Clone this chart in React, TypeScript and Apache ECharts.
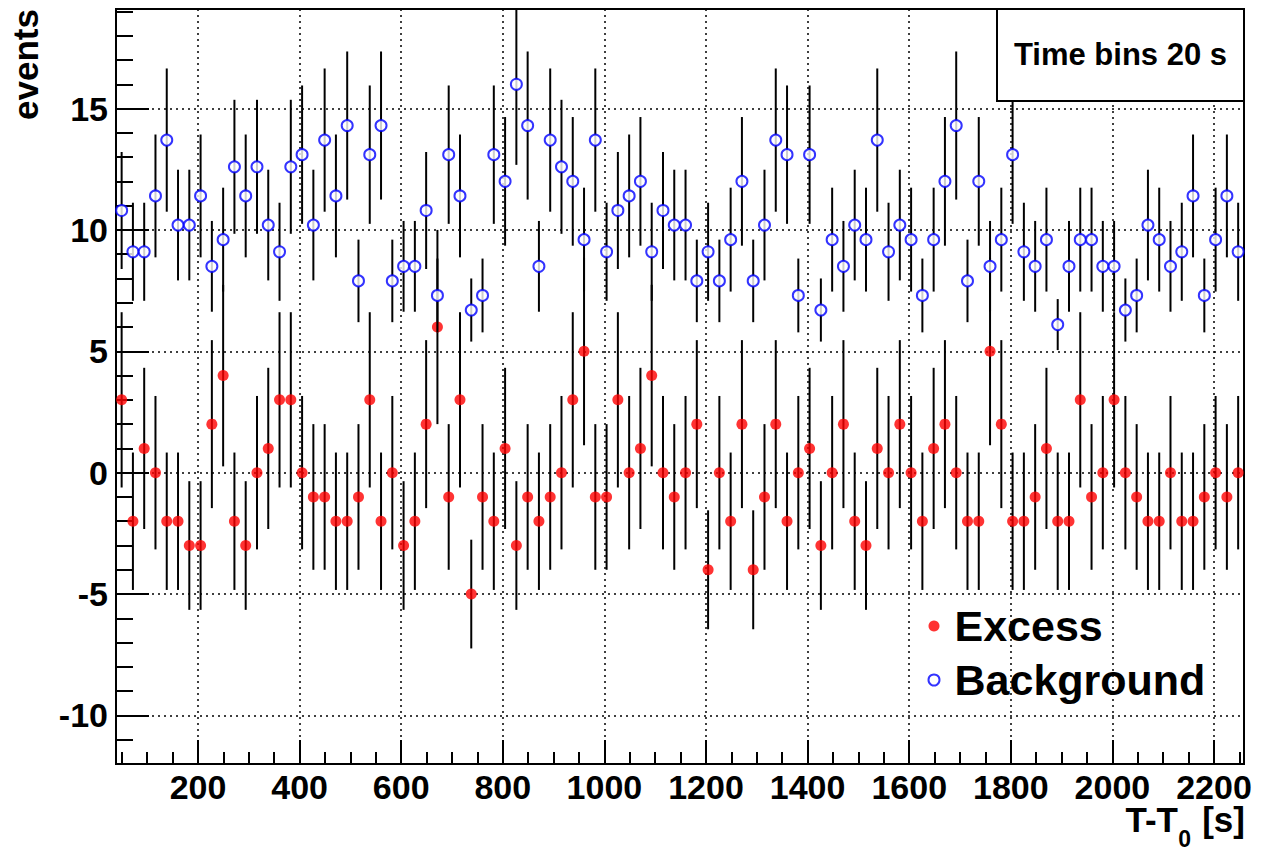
import React, { useEffect, useRef } from "react";
import * as echarts from "echarts";

// Excess counts per time bin (integers)
const excess = [
  3, -2, 1, 0, -2, -2, -3, -3, 2, 4,
  -2, -3, 0, 1, 3, 3, 0, -1, -1, -2,
  -2, -1, 3, -2, 0, -3, -2, 2, 6, -1,
  3, -5, -1, -2, 1, -3, -1, -2, -1, 0,
  3, 5, -1, -1, 3, 0, 1, 4, 0, -1,
  0, 2, -4, 0, -2, 2, -4, -1, 2, -2,
  0, 1, -3, 0, 2, -2, -3, 1, 0, 2,
  0, -2, 1, 2, 0, -2, -2, 5, 2, -2,
  -2, -1, 1, -2, -2, 3, -1, 0, 3, 0,
  -1, -2, -2, 0, -2, -2, -1, 0, -1, 0,
];

// Half-length of the excess error bars
const excessErr = [
  3.61, 2.83, 3.32, 3.16, 2.83, 2.83, 2.65, 2.65, 3.46, 3.74,
  2.83, 2.65, 3.16, 3.32, 3.61, 3.61, 3.16, 3.0, 3.0, 2.83,
  2.83, 3.0, 3.61, 2.83, 3.16, 2.65, 2.83, 3.46, 4.0, 3.0,
  3.61, 2.24, 3.0, 2.83, 3.32, 2.65, 3.0, 2.83, 3.0, 3.16,
  3.61, 3.87, 3.0, 3.0, 3.61, 3.16, 3.32, 3.74, 3.16, 3.0,
  3.16, 3.46, 2.45, 3.16, 2.83, 3.46, 2.45, 3.0, 3.46, 2.83,
  3.16, 3.32, 2.65, 3.16, 3.46, 2.83, 2.65, 3.32, 3.16, 3.46,
  3.16, 2.83, 3.32, 3.46, 3.16, 2.83, 2.83, 3.87, 3.46, 2.83,
  2.83, 3.0, 3.32, 2.83, 2.83, 3.61, 3.0, 3.16, 3.61, 3.16,
  3.0, 2.83, 2.83, 3.16, 2.83, 2.83, 3.0, 3.16, 3.0, 3.16,
];

// Background estimate per time bin
const background = [
  10.8, 9.1, 9.1, 11.4, 13.7, 10.2, 10.2, 11.4, 8.5, 9.6,
  12.6, 11.4, 12.6, 10.2, 9.1, 12.6, 13.1, 10.2, 13.7, 11.4,
  14.3, 7.9, 13.1, 14.3, 7.9, 8.5, 8.5, 10.8, 7.3, 13.1,
  11.4, 6.7, 7.3, 13.1, 12.0, 16.0, 14.3, 8.5, 13.7, 12.6,
  12.0, 9.6, 13.7, 9.1, 10.8, 11.4, 12.0, 9.1, 10.8, 10.2,
  10.2, 7.9, 9.1, 7.9, 9.6, 12.0, 7.9, 10.2, 13.7, 13.1,
  7.3, 13.1, 6.7, 9.6, 8.5, 10.2, 9.6, 13.7, 9.1, 10.2,
  9.6, 7.3, 9.6, 12.0, 14.3, 7.9, 12.0, 8.5, 9.6, 13.1,
  9.1, 8.5, 9.6, 6.1, 8.5, 9.6, 9.6, 8.5, 8.5, 6.7,
  7.3, 10.2, 9.6, 8.5, 9.1, 11.4, 7.3, 9.6, 11.4, 9.1,
];

// Half-length of the background error bars
const backgroundErr = [
  2.41, 2.02, 2.02, 2.53, 2.95, 2.28, 2.28, 2.53, 1.87, 2.14,
  2.76, 2.53, 2.76, 2.28, 2.02, 2.76, 2.85, 2.28, 2.95, 2.53,
  3.05, 1.7, 2.85, 3.05, 1.7, 1.87, 1.87, 2.41, 1.52, 2.85,
  2.53, 1.3, 1.52, 2.85, 2.65, 3.32, 3.05, 1.87, 2.95, 2.76,
  2.65, 2.14, 2.95, 2.02, 2.41, 2.53, 2.65, 2.02, 2.41, 2.28,
  2.28, 1.7, 2.02, 1.7, 2.14, 2.65, 1.7, 2.28, 2.95, 2.85,
  1.52, 2.85, 1.3, 2.14, 1.87, 2.28, 2.14, 2.95, 2.02, 2.28,
  2.14, 1.52, 2.14, 2.65, 3.05, 1.7, 2.65, 1.87, 2.14, 2.85,
  2.02, 1.87, 2.14, 1.05, 1.87, 2.14, 2.14, 1.87, 1.87, 1.3,
  1.52, 2.28, 2.14, 1.87, 2.02, 2.53, 1.52, 2.14, 2.53, 2.02,
];

// Equal time bins: first bin edge and bin width (seconds)
const BIN_START = 38.6;
const BIN_WIDTH = 22.2;
const timeCenters = excess.map((_, i) => +(BIN_START + BIN_WIDTH * (i + 0.5)).toFixed(2));

const X_MIN = 38.6;
const X_MAX = 2259;
const Y_MIN = -12;
const Y_MAX = 19.1;

const FONT = "'Liberation Sans', Arial, Helvetica, sans-serif";

function errorBarSeries(name: string, values: number[], errs: number[], z: number) {
  return {
    type: "custom",
    name,
    z,
    silent: true,
    data: values.map((v, i) => [timeCenters[i], v, errs[i]]),
    encode: { x: 0, y: 1 },
    renderItem: (params: any, api: any) => {
      const x = api.value(0);
      const v = api.value(1);
      const e = api.value(2);
      const lo = Math.max(Y_MIN, v - e);
      const hi = Math.min(Y_MAX, v + e);
      const p1 = api.coord([x, lo]);
      const p2 = api.coord([x, hi]);
      return {
        type: "line",
        shape: { x1: p1[0], y1: p1[1], x2: p2[0], y2: p2[1] },
        style: { stroke: "#000", lineWidth: 2 },
      };
    },
  };
}

export default function App() {
  const ref = useRef<HTMLDivElement>(null);

  useEffect(() => {
    if (!ref.current) return;
    const chart = echarts.init(ref.current, null, { renderer: "svg" });

    const tickLabel = {
      fontFamily: FONT,
      fontWeight: "bold" as const,
      fontSize: 34,
      color: "#000",
    };
    const dotted = { show: true, lineStyle: { color: "#000", width: 1.5, type: [2, 4] } };

    chart.setOption({
      animation: false,
      backgroundColor: "#ffffff",
      textStyle: { fontFamily: FONT },
      grid: {
        left: 116,
        right: 24,
        top: 9,
        bottom: 87,
        show: true,
        borderColor: "#000",
        borderWidth: 2,
        backgroundColor: "transparent",
      },
      xAxis: {
        type: "value",
        min: X_MIN,
        max: X_MAX,
        splitNumber: 11,
        axisLine: { show: true, onZero: false, lineStyle: { color: "#000", width: 2 } },
        axisTick: { show: true, inside: true, length: 24, lineStyle: { color: "#000", width: 2 } },
        minorTick: { show: true, splitNumber: 4, length: 12, lineStyle: { color: "#000", width: 2 } },
        axisLabel: {
          ...tickLabel,
          lineHeight: 28,
          margin: 9,
          showMinLabel: false,
          showMaxLabel: false,
          formatter: (v: number) => String(v),
        },
        splitLine: dotted,
        minorSplitLine: { show: false },
      },
      yAxis: {
        type: "value",
        min: Y_MIN,
        max: Y_MAX,
        splitNumber: 6,
        axisLine: { show: true, onZero: false, lineStyle: { color: "#000", width: 2 } },
        axisTick: { show: true, inside: true, length: 33, lineStyle: { color: "#000", width: 2 } },
        minorTick: { show: true, splitNumber: 5, length: 17, lineStyle: { color: "#000", width: 2 } },
        axisLabel: {
          ...tickLabel,
          margin: 8,
          showMinLabel: false,
          showMaxLabel: false,
          formatter: (v: number) => String(v),
        },
        splitLine: dotted,
        minorSplitLine: { show: false },
      },
      legend: {
        orient: "vertical",
        left: 922.5,
        top: 599.5,
        itemWidth: 11,
        itemHeight: 11,
        itemGap: 11,
        selectedMode: false,
        data: [
          { name: "Excess", icon: "circle", itemStyle: { color: "#ff0000", borderWidth: 0 } },
          {
            name: "Background",
            icon: "circle",
            itemStyle: { color: "#ffffff", borderColor: "#0000ff", borderWidth: 2 },
          },
        ],
        textStyle: {
          fontFamily: FONT,
          fontWeight: "bold",
          fontSize: 43,
          lineHeight: 43,
          color: "#000",
          padding: [0, 0, 0, 10],
        },
      },
      series: [
        errorBarSeries("Excess error", excess, excessErr, 2),
        {
          type: "scatter",
          name: "Excess",
          z: 3,
          silent: true,
          symbol: "circle",
          symbolSize: 11,
          itemStyle: { color: "#ff0000" },
          data: excess.map((v, i) => [timeCenters[i], v]),
        },
        errorBarSeries("Background error", background, backgroundErr, 4),
        {
          type: "scatter",
          name: "Background",
          z: 5,
          silent: true,
          symbol: "circle",
          symbolSize: 11,
          itemStyle: { color: "#ffffff", borderColor: "#0000ff", borderWidth: 2 },
          data: background.map((v, i) => [timeCenters[i], v]),
        },
      ],
      graphic: [
        {
          type: "text",
          x: 25,
          y: 9,
          rotation: Math.PI / 2,
          style: {
            text: "events",
            fontFamily: FONT,
            fontWeight: "bold",
            fontSize: 35,
            fill: "#000",
            align: "right",
            verticalAlign: "middle",
          },
        },
        {
          type: "text",
          x: 1245,
          y: 819.5,
          style: {
            text: "[s]",
            fontFamily: FONT,
            fontWeight: "bold",
            fontSize: 35,
            lineHeight: 30,
            fill: "#000",
            align: "right",
            verticalAlign: "middle",
          },
        },
        {
          type: "text",
          x: 1191,
          y: 838.8,
          style: {
            text: "0",
            fontFamily: FONT,
            fontWeight: "bold",
            fontSize: 23,
            lineHeight: 20,
            fill: "#000",
            align: "right",
            verticalAlign: "middle",
          },
        },
        {
          type: "text",
          x: 1178,
          y: 819.5,
          style: {
            text: "T-T",
            fontFamily: FONT,
            fontWeight: "bold",
            fontSize: 35,
            lineHeight: 30,
            fill: "#000",
            align: "right",
            verticalAlign: "middle",
          },
        },
        {
          type: "rect",
          z: 100,
          shape: { x: 997, y: 9, width: 247, height: 92 },
          style: { fill: "#ffffff", stroke: "#000", lineWidth: 2 },
        },
        {
          type: "text",
          z: 101,
          x: 1120.5,
          y: 54.5,
          style: {
            text: "Time bins 20 s",
            fontFamily: FONT,
            fontWeight: "bold",
            fontSize: 31,
            fill: "#000",
            align: "center",
            verticalAlign: "middle",
          },
        },
      ],
    });

    return () => {
      chart.dispose();
    };
  }, []);

  return (
    <div
      ref={ref}
      style={{
        position: "fixed",
        left: 0,
        top: 0,
        width: 1268,
        height: 851,
        background: "#ffffff",
      }}
    />
  );
}
